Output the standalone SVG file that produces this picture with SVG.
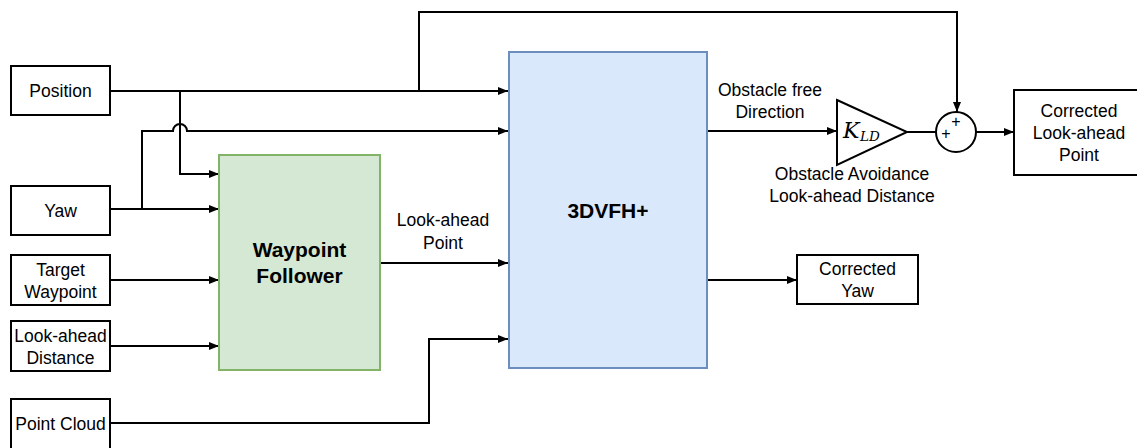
<svg xmlns="http://www.w3.org/2000/svg" width="1137" height="448" viewBox="0 0 1137 448">
  <style>
    .box { fill: #ffffff; stroke: #000000; stroke-width: 2; }
    .lbl { font-family: "Liberation Sans", Arial, sans-serif; font-size: 17.5px; fill: #000000; text-anchor: middle; }
    .big { font-family: "Liberation Sans", Arial, sans-serif; font-size: 21px; font-weight: bold; fill: #000000; text-anchor: middle; }
    .wire { fill: none; stroke: #000000; stroke-width: 2; }
    .arr { marker-end: url(#head); }
  </style>
  <defs>
    <marker id="head" viewBox="0 0 10 8" refX="10" refY="4" markerWidth="10" markerHeight="9" markerUnits="userSpaceOnUse" orient="auto">
      <path d="M0,0 L10,4 L0,8 Z" fill="#000000"/>
    </marker>
  </defs>
  <rect width="1137" height="448" fill="#ffffff"/>

  <!-- signal lines -->
  <g id="connectors">
    <!-- Position to 3DVFH+ -->
    <path class="wire arr" d="M110,91 H508"/>
    <!-- Position branch to Waypoint Follower -->
    <path class="wire arr" d="M180,91 V174 H219"/>
    <!-- Position feedforward to summing junction -->
    <path class="wire arr" d="M419,91 V12 H957 V112"/>
    <!-- Yaw to Waypoint Follower -->
    <path class="wire arr" d="M110,209 H219"/>
    <!-- Yaw to 3DVFH+ with hop over the Position branch -->
    <path class="wire arr" d="M142,209 V131 H173 A7,7 0 0 1 187,131 H508"/>
    <!-- Target Waypoint -->
    <path class="wire arr" d="M110,280 H219"/>
    <!-- Look-ahead Distance -->
    <path class="wire arr" d="M110,346 H219"/>
    <!-- Look-ahead Point -->
    <path class="wire arr" d="M380,263 H508"/>
    <!-- Point Cloud -->
    <path class="wire arr" d="M110,423 H429 V339 H508"/>
    <!-- Obstacle free direction to gain -->
    <path class="wire arr" d="M707,131 H837"/>
    <!-- gain to summing junction -->
    <path class="wire" d="M907,132 H936"/>
    <!-- summing junction to output -->
    <path class="wire arr" d="M976,132 H1014"/>
    <!-- Corrected Yaw -->
    <path class="wire arr" d="M707,280 H797"/>
  </g>

  <g id="position">
    <rect class="box" x="11" y="66" width="99" height="49"/>
    <text class="lbl" x="60.5" y="97">Position</text>
  </g>
  <g id="yaw">
    <rect class="box" x="11" y="186" width="99" height="49"/>
    <text class="lbl" x="60.5" y="217">Yaw</text>
  </g>
  <g id="target-waypoint">
    <rect class="box" x="11" y="255" width="99" height="50"/>
    <text class="lbl" x="60.5" y="276">Target</text>
    <text class="lbl" x="60.5" y="298">Waypoint</text>
  </g>
  <g id="lookahead-distance">
    <rect class="box" x="11" y="321" width="99" height="50"/>
    <text class="lbl" x="60.5" y="342">Look-ahead</text>
    <text class="lbl" x="60.5" y="364">Distance</text>
  </g>
  <g id="point-cloud">
    <rect class="box" x="11" y="399" width="99" height="60"/>
    <text class="lbl" x="60.5" y="430">Point Cloud</text>
  </g>

  <g id="waypoint-follower">
    <rect x="219" y="155" width="161" height="215" fill="#d5e8d4" stroke="#82b366" stroke-width="2"/>
    <text class="big" x="299.5" y="257">Waypoint</text>
    <text class="big" x="299.5" y="283">Follower</text>
  </g>

  <g id="vfh">
    <rect x="509" y="52" width="198" height="316" fill="#dae8fc" stroke="#6c8ebf" stroke-width="2"/>
    <text class="big" x="608" y="218">3DVFH+</text>
  </g>

  <g id="lookahead-point-label">
    <text class="lbl" x="443" y="226">Look-ahead</text>
    <text class="lbl" x="443" y="249">Point</text>
  </g>

  <g id="direction-label">
    <text class="lbl" x="770" y="96">Obstacle free</text>
    <text class="lbl" x="770" y="118">Direction</text>
  </g>

  <g id="gain">
    <path d="M837,100 L907,132 L837,165 Z" fill="#ffffff" stroke="#000000" stroke-width="2"/>
    <text x="843" y="138" font-family="'DejaVu Serif', 'Liberation Serif', serif" font-style="italic" font-size="22">K</text>
    <text x="860" y="141" font-family="'DejaVu Serif', 'Liberation Serif', serif" font-style="italic" font-size="13.5">LD</text>
    <text class="lbl" x="852" y="180">Obstacle Avoidance</text>
    <text class="lbl" x="852" y="202">Look-ahead Distance</text>
  </g>

  <g id="sum">
    <circle cx="956" cy="132" r="20" fill="#ffffff" stroke="#000000" stroke-width="2"/>
    <text x="956" y="127" font-family="'Liberation Sans', Arial, sans-serif" font-size="16" fill="#000000" text-anchor="middle">+</text>
    <text x="946" y="139" font-family="'Liberation Sans', Arial, sans-serif" font-size="16" fill="#000000" text-anchor="middle">+</text>
  </g>

  <g id="corrected-lookahead">
    <rect class="box" x="1014" y="90" width="135" height="85"/>
    <text class="lbl" x="1079" y="117">Corrected</text>
    <text class="lbl" x="1079" y="139">Look-ahead</text>
    <text class="lbl" x="1079" y="161">Point</text>
  </g>

  <g id="corrected-yaw">
    <rect class="box" x="797" y="255" width="121" height="49"/>
    <text class="lbl" x="857.5" y="275">Corrected</text>
    <text class="lbl" x="857.5" y="297">Yaw</text>
  </g>
</svg>
